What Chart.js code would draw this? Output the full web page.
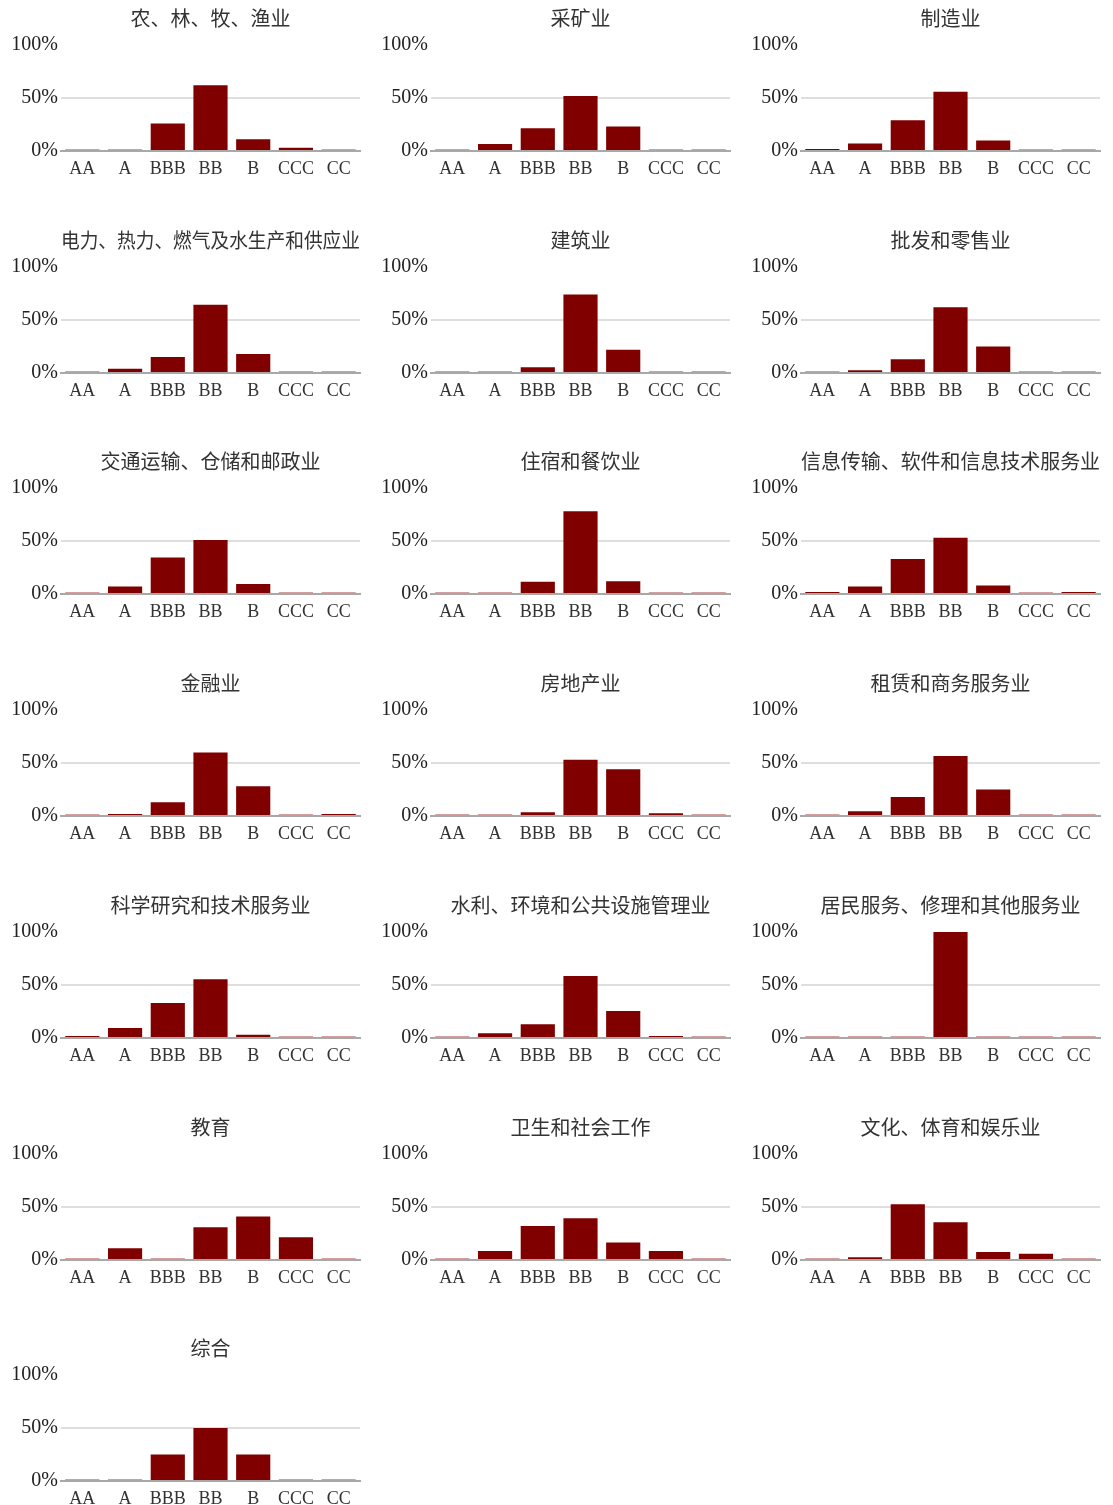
<!DOCTYPE html>
<html>
<head>
<meta charset="utf-8">
<script src="https://cdn.jsdelivr.net/npm/chart.js@4"></script>
<style>
  html, body { margin: 0; padding: 0; background: #fff; overflow: hidden; }
  #wrap { position: relative; width: 1113px; height: 1505px; }
  #wrap canvas { position: absolute; }
</style>
</head>
<body>
<div id="wrap"></div>
<script>
const ratings = ['AA', 'A', 'BBB', 'BB', 'B', 'CCC', 'CC'];
const yTicks = [0, 50, 100];

// 各行业评级分布 (%)
const agriculture  = [0, 0, 26, 62, 11, 3, 0];
const mining       = [0, 6.5, 21.5, 52, 23, 0, 0];
const manufacture  = [1.5, 7, 29, 56, 10, 0, 0];
const utilities    = [0, 4, 15, 64.5, 18, 0, 0];
const construction = [0, 0, 5.5, 74, 22, 0, 0];
const trade        = [0, 2.5, 13, 62, 25, 0, 0];
const transport    = [0, 7, 34.5, 51, 9.5, 0, 0];
const hospitality  = [0, 0, 11.5, 78, 12, 0, 0];
const infoTech     = [1, 7, 33, 53, 8, 0, 1];
const finance      = [0, 2, 13, 60, 28, 0, 1.5];
const realEstate   = [0, 0, 3.5, 53, 44, 2.5, 0];
const leasing      = [0, 4.5, 18, 56.5, 25, 0, 0];
const research     = [2, 9.5, 33, 55.5, 3, 0, 0];
const publicFac    = [0, 4.5, 13, 58.5, 25.5, 1.5, 0];
const residentSvc  = [0, 0, 0, 100, 0, 0, 0];
const education    = [0, 11, 0, 31, 41, 21.5, 0];
const health       = [0, 8.5, 32, 39.5, 16.5, 8.5, 0];
const culture      = [0, 2.5, 52.5, 35.5, 7.5, 6, 0];
const composite    = [0, 0, 25, 50, 25, 0, 0];

const titles = ['农、林、牧、渔业', '采矿业', '制造业',
  '电力、热力、燃气及水生产和供应业', '建筑业', '批发和零售业',
  '交通运输、仓储和邮政业', '住宿和餐饮业', '信息传输、软件和信息技术服务业',
  '金融业', '房地产业', '租赁和商务服务业',
  '科学研究和技术服务业', '水利、环境和公共设施管理业', '居民服务、修理和其他服务业',
  '教育', '卫生和社会工作', '文化、体育和娱乐业',
  '综合'];
const series = [agriculture, mining, manufacture, utilities, construction, trade,
  transport, hospitality, infoTech, finance, realEstate, leasing,
  research, publicFac, residentSvc, education, health, culture, composite];

const latin = "'Liberation Serif', 'DejaVu Serif', serif";
const cjk = "'Noto Sans CJK SC', 'Noto Sans', sans-serif";

const wrap = document.getElementById('wrap');

titles.forEach((title, i) => {
  const col = i % 3;
  const row = Math.floor(i / 3);
  const canvas = document.createElement('canvas');
  canvas.width = 390;
  canvas.height = 222;
  canvas.style.left = (col * 370) + 'px';
  canvas.style.top = Math.round(row * 221.7) + 'px';
  wrap.appendChild(canvas);

  new Chart(canvas, {
    type: 'bar',
    data: {
      labels: ratings,
      datasets: [{
        data: series[i],
        // 零值只显示一条浅色细线
        backgroundColor: (ctx) => ctx.raw === 0 ? 'rgba(160,40,40,0.45)' : '#800000',
        barPercentage: 0.8,
        categoryPercentage: 1,
        minBarLength: 2
      }]
    },
    options: {
      responsive: false,
      animation: false,
      devicePixelRatio: 1,
      layout: { padding: { left: 0, right: 30, top: 0, bottom: 31 } },
      plugins: {
        legend: { display: false },
        tooltip: { enabled: false },
        title: {
          display: true,
          text: title,
          fullSize: false,
          color: '#333',
          font: { family: cjk, size: 20, weight: 'normal' },
          padding: { top: 6, bottom: 15 }
        }
      },
      scales: {
        x: {
          afterFit: (scale) => { scale.height = 40; },
          grid: { display: false, drawTicks: false },
          border: { color: '#a8a8a8', width: 2 },
          ticks: {
            color: '#333',
            font: { family: latin, size: 18 },
            padding: 7,
            maxRotation: 0,
            autoSkip: false
          }
        },
        y: {
          min: yTicks[0],
          max: yTicks[yTicks.length - 1],
          afterFit: (scale) => { scale.width = 61; },
          afterBuildTicks: (scale) => { scale.ticks = yTicks.map(v => ({ value: v })); },
          border: { display: false },
          grid: {
            drawTicks: false,
            lineWidth: 2,
            color: (ctx) => ctx.tick && ctx.tick.value === 50 ? '#dedede' : 'rgba(0,0,0,0)'
          },
          ticks: {
            color: '#222',
            font: { family: latin, size: 20 },
            padding: 3,
            callback: (value) => `${value}%`
          }
        }
      }
    }
  });
});
</script>
</body>
</html>
